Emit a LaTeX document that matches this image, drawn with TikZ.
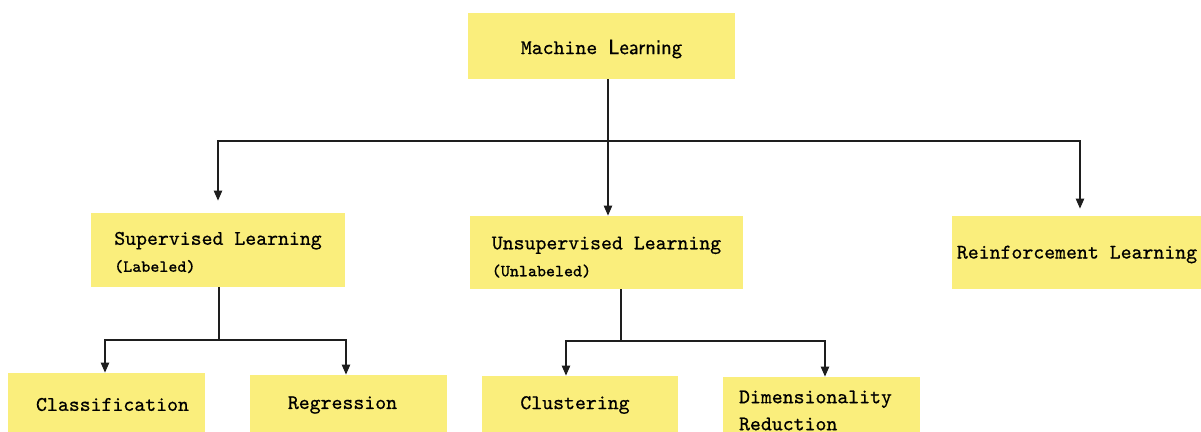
\documentclass[tikz,border=0pt]{standalone}
\usepackage{fontspec}
\newfontfamily\boxtt{Latin Modern Mono}[FakeBold=0.6]
\newfontfamily\boxsf{Latin Modern Sans}[FakeBold=0.6]
\usetikzlibrary{arrows.meta}
\definecolor{boxyellow}{RGB}{250,238,124}
\definecolor{linec}{RGB}{30,30,30}
\begin{document}
\begin{tikzpicture}[x=0.5pt,y=-0.5pt,
  box/.style={fill=boxyellow, draw=none, inner sep=0pt, align=left,
    font=\fontsize{10.4}{13.5}\selectfont\boxtt},
  conn/.style={draw=linec, line width=0.65pt},
  tip/.style={-{Triangle[length=5pt,width=4.2pt]}}]
\useasboundingbox (0,0) rectangle (1201,432);
\clip (0,0) rectangle (1201,432);
\fill[white] (0,0) rectangle (1201,432);
% boxes
\node[box, minimum width=133.5pt, minimum height=33pt] (ml) at (601.5,46) {\raisebox{-1.5pt}[\height][\depth]{Machine {\boxsf Learning}}};
\node[box, minimum width=127pt, minimum height=37pt] (sup) at (218,250) {\rule{0pt}{9pt}Supervised Learning\\{\fontsize{8.5}{13.5}\selectfont (Labeled)}};
\node[box, minimum width=136.5pt, minimum height=36.5pt] (un) at (606.5,252.5) {\rule{0pt}{11pt}Unsupervised Learning\\{\fontsize{8.5}{13.5}\selectfont (Unlabeled)}};
\node[box, minimum width=125pt, minimum height=36.5pt] (rl) at (1077,252.5) {\raisebox{-1pt}[\height][\depth]{Reinforcement Learning}};
\node[box, minimum width=98.5pt, minimum height=31.5pt] (cls) at (106.5,404.5) {\hspace*{6pt}Classification};
\node[box, minimum width=98.5pt, minimum height=30pt] (reg) at (348.5,405) {\hspace*{-6pt}Regression};
\node[box, minimum width=98pt, minimum height=29pt] (clu) at (580,405) {\hspace*{-5pt}Clustering};
\node[box, minimum width=98.5pt, minimum height=33.5pt] (dim) at (821.5,410.5) {\hspace*{-6pt}Dimensionality\\\hspace*{-6pt}Reduction};
% junctions
\coordinate (j1) at (608,141);
\coordinate (j2) at (219,340);
\coordinate (j3) at (621,341);
% connectors
\draw[conn] (ml.south -| j1) -- (j1);
\draw[conn,tip] (j1) -- (j1 |- un.north);
\draw[conn,tip] (j1) -| ([yshift=6pt]sup.north);
\draw[conn,tip] (j1) -| ([xshift=1.5pt,yshift=3.5pt]rl.north);
\draw[conn] (sup.south -| j2) -- (j2);
\draw[conn,tip] (j2) -| ([xshift=-0.75pt]cls.north);
\draw[conn,tip] (j2) -| ([xshift=-1.25pt]reg.north);
\draw[conn] (un.south -| j3) -- (j3);
\draw[conn,tip] (j3) -| ([xshift=-7pt]clu.north);
\draw[conn,tip] (j3) -| ([xshift=1.75pt]dim.north);
\end{tikzpicture}
\end{document}
